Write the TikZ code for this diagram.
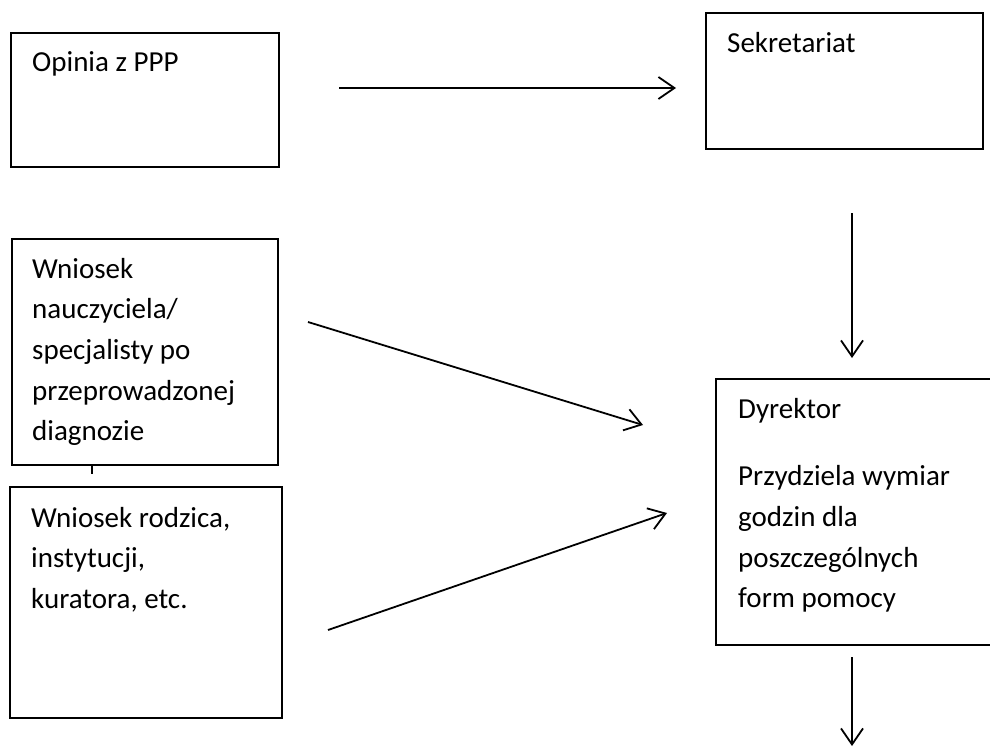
\documentclass[tikz,border=0pt]{standalone}
\usepackage{fontspec}
\setmainfont{Carlito}
\usetikzlibrary{arrows.meta}
\newcommand\lns[1]{\parbox[t]{300pt}{\raggedright #1}}
\tikzset{
  box/.style={draw, line width=1.6pt, inner sep=0pt, minimum width=#1},
  txt/.style={anchor=base west, inner sep=0pt, font=\fontsize{29}{40.7}\selectfont},
  arr/.style={line width=1.8pt, -{Straight Barb[length=16pt,width=22pt,line width=1.8pt]}}
}
\begin{document}
\begin{tikzpicture}[x=1pt,y=-1pt]
\clip (0,0) rectangle (990,749);
\fill[white] (0,0) rectangle (990,749);
% boxes
\node[box=268pt, minimum height=134pt] (b1) at (145,100) {};
\node[box=277pt, minimum height=136pt] (b2) at (844.5,81) {};
\node[box=266pt, minimum height=226pt] (b3) at (145,352) {};
\node[box=272pt, minimum height=231pt] (b4) at (146,602.5) {};
\node[box=300pt, minimum height=266pt] (b5) at (866,512) {};
% texts
\node[txt] (t1) at (32,72) {Opinia z PPP};
\node[txt] (t2) at (727,53) {Sekretariat};
\node[txt] (t3) at (32,278) {\lns{Wniosek\\ nauczyciela/\\ specjalisty po\\ przeprowadzonej\\ diagnozie}};
\node[txt] (t4) at (31,527) {\lns{Wniosek rodzica,\\ instytucji,\\ kuratora, etc.}};
\node[txt] (t5) at (738,418) {\lns{Dyrektor\\[27pt] Przydziela wymiar\\ godzin dla\\ poszczególnych\\ form pomocy}};
% stray tick below box 3
\coordinate (k1) at (92,465);
\coordinate (k2) at (92,474);
\draw[line width=2pt] (k1) -- (k2);
% connector ends
\coordinate (a1s) at (339,88);  \coordinate (a1e) at (676,88);
\coordinate (a2s) at (852,213); \coordinate (a2e) at (852,358);
\coordinate (a3s) at (308,322); \coordinate (a3e) at (643,425);
\coordinate (a4s) at (328,630); \coordinate (a4e) at (667,513);
\coordinate (a5s) at (852,657); \coordinate (a5e) at (852,746);
\draw[arr] (a1s) -- (a1e);
\draw[arr] (a2s) -- (a2e);
\draw[arr] (a3s) -- (a3e);
\draw[arr] (a4s) -- (a4e);
\draw[arr] (a5s) -- (a5e);
\end{tikzpicture}
\end{document}
